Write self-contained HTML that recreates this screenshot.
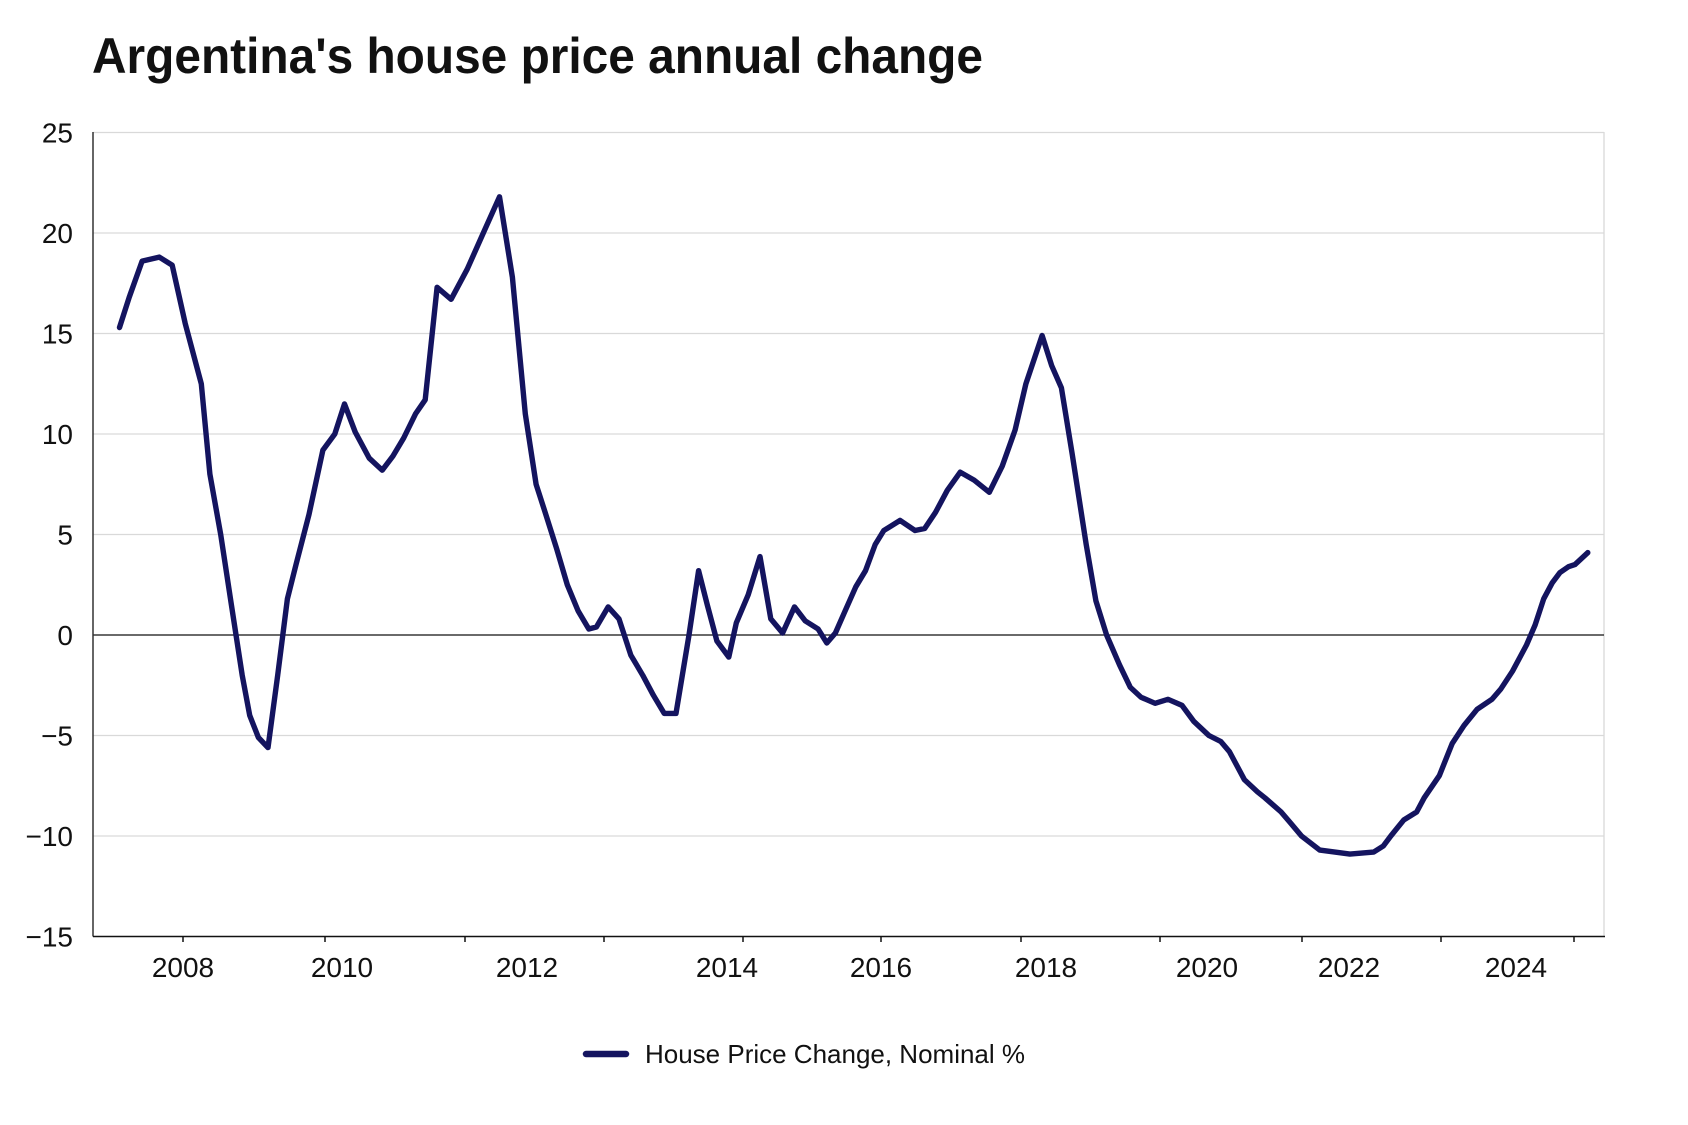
<!DOCTYPE html>
<html><head><meta charset="utf-8"><style>
html,body{margin:0;padding:0;background:#fff;}
svg{display:block;font-family:"Liberation Sans",sans-serif;}
</style></head><body>
<svg id="s" width="1688" height="1125" viewBox="0 0 1688 1125" xmlns="http://www.w3.org/2000/svg">
<text x="92" y="73" font-size="50" font-weight="bold" fill="#111" textLength="891" lengthAdjust="spacingAndGlyphs">Argentina's house price annual change</text>
<g stroke="#d9d9d9" stroke-width="1.3">
<line x1="93" y1="132.5" x2="1604" y2="132.5"/>
<line x1="93" y1="233" x2="1604" y2="233"/>
<line x1="93" y1="333.5" x2="1604" y2="333.5"/>
<line x1="93" y1="434" x2="1604" y2="434"/>
<line x1="93" y1="534.5" x2="1604" y2="534.5"/>
<line x1="93" y1="735.5" x2="1604" y2="735.5"/>
<line x1="93" y1="836" x2="1604" y2="836"/>
<line x1="1604" y1="132" x2="1604" y2="936"/>
</g>
<line x1="93" y1="635" x2="1604" y2="635" stroke="#111" stroke-width="1.3"/>
<line x1="93" y1="132" x2="93" y2="936.5" stroke="#333" stroke-width="1.5"/>
<line x1="93" y1="936.5" x2="1605" y2="936.5" stroke="#111" stroke-width="1.5"/>
<g stroke="#111" stroke-width="1.5">
<line x1="183" y1="936" x2="183" y2="942"/><line x1="325" y1="936" x2="325" y2="942"/>
<line x1="465" y1="936" x2="465" y2="942"/><line x1="604" y1="936" x2="604" y2="942"/>
<line x1="743" y1="936" x2="743" y2="942"/><line x1="881" y1="936" x2="881" y2="942"/>
<line x1="1021" y1="936" x2="1021" y2="942"/><line x1="1160" y1="936" x2="1160" y2="942"/>
<line x1="1302" y1="936" x2="1302" y2="942"/><line x1="1441" y1="936" x2="1441" y2="942"/>
<line x1="1574" y1="936" x2="1574" y2="942"/>
</g>
<g font-size="28" fill="#111" text-anchor="end">
<text x="73" y="142.5">25</text><text x="73" y="243">20</text><text x="73" y="343.5">15</text>
<text x="73" y="444">10</text><text x="73" y="544.5">5</text><text x="73" y="645">0</text>
<text x="73" y="745.5">−5</text><text x="73" y="846">−10</text><text x="73" y="946.5">−15</text>
</g>
<g font-size="28" fill="#111" text-anchor="middle">
<text x="183" y="977">2008</text><text x="342" y="977">2010</text><text x="527" y="977">2012</text>
<text x="727" y="977">2014</text><text x="881" y="977">2016</text><text x="1046" y="977">2018</text>
<text x="1207" y="977">2020</text><text x="1349" y="977">2022</text><text x="1516" y="977">2024</text>
</g>
<polyline id="p" fill="none" stroke="#14145f" stroke-width="5.4" stroke-linejoin="round" stroke-linecap="round" points=""/>
<line x1="586" y1="1054" x2="626" y2="1054" stroke="#14145f" stroke-width="6.5" stroke-linecap="round"/>
<text x="645" y="1063" font-size="26" fill="#111" textLength="380" lengthAdjust="spacingAndGlyphs">House Price Change, Nominal %</text>
</svg>
<script>
var d=[[111,15.3],[120,16.8],[132,18.6],[148,18.8],[160,18.4],[172,15.5],[187,12.5],[195,8],[205,5],[215,1.5],[225,-2],[232,-4],[240,-5.1],[249,-5.6],[258,-2],[267,1.8],[275,3.5],[287,6],[300,9.2],[311,10],[320,11.5],[330,10.1],[343,8.8],[355,8.2],[365,8.9],[375,9.8],[386,11],[395,11.7],[406,17.3],[419,16.7],[434,18.2],[449,20],[464,21.8],[476,17.8],[488,11],[498,7.5],[507,6],[517,4.3],[527,2.5],[537,1.2],[547,0.3],[554,0.4],[565,1.4],[575,0.8],[586,-1],[597,-2],[607,-3],[617,-3.9],[628,-3.9],[640,0],[649,3.2],[657,1.5],[666,-0.3],[677,-1.1],[684,0.6],[695,2],[706,3.9],[716,0.8],[727,0.1],[738,1.4],[748,0.7],[760,0.3],[768,-0.4],[776,0.1],[785,1.2],[795,2.4],[804,3.2],[813,4.5],[821,5.2],[836,5.7],[850,5.2],[859,5.3],[869,6.1],[880,7.2],[892,8.1],[905,7.7],[919,7.1],[931,8.4],[943,10.2],[953,12.5],[968,14.9],[977,13.4],[986,12.3],[996,9],[1009,4.5],[1018,1.7],[1028,0],[1040,-1.5],[1050,-2.6],[1060,-3.1],[1073,-3.4],[1085,-3.2],[1098,-3.5],[1109,-4.3],[1123,-5],[1134,-5.3],[1142,-5.8],[1156,-7.2],[1168,-7.8],[1175,-8.1],[1190,-8.8],[1198,-9.3],[1209,-10],[1226,-10.7],[1240,-10.8],[1254,-10.9],[1265,-10.85],[1276,-10.8],[1285,-10.5],[1292,-10],[1304,-9.2],[1316,-8.8],[1323,-8.1],[1337,-7],[1349,-5.4],[1360,-4.5],[1372,-3.7],[1386,-3.2],[1394,-2.7],[1405,-1.8],[1418,-0.5],[1426,0.5],[1434,1.8],[1442,2.6],[1449,3.1],[1457,3.4],[1463,3.5],[1475,4.1]];
document.getElementById('p').setAttribute('points',d.map(function(a){return (a[0]*1.0765).toFixed(1)+','+(635-20.1*a[1]).toFixed(1);}).join(' '));
</script>
</body></html>
